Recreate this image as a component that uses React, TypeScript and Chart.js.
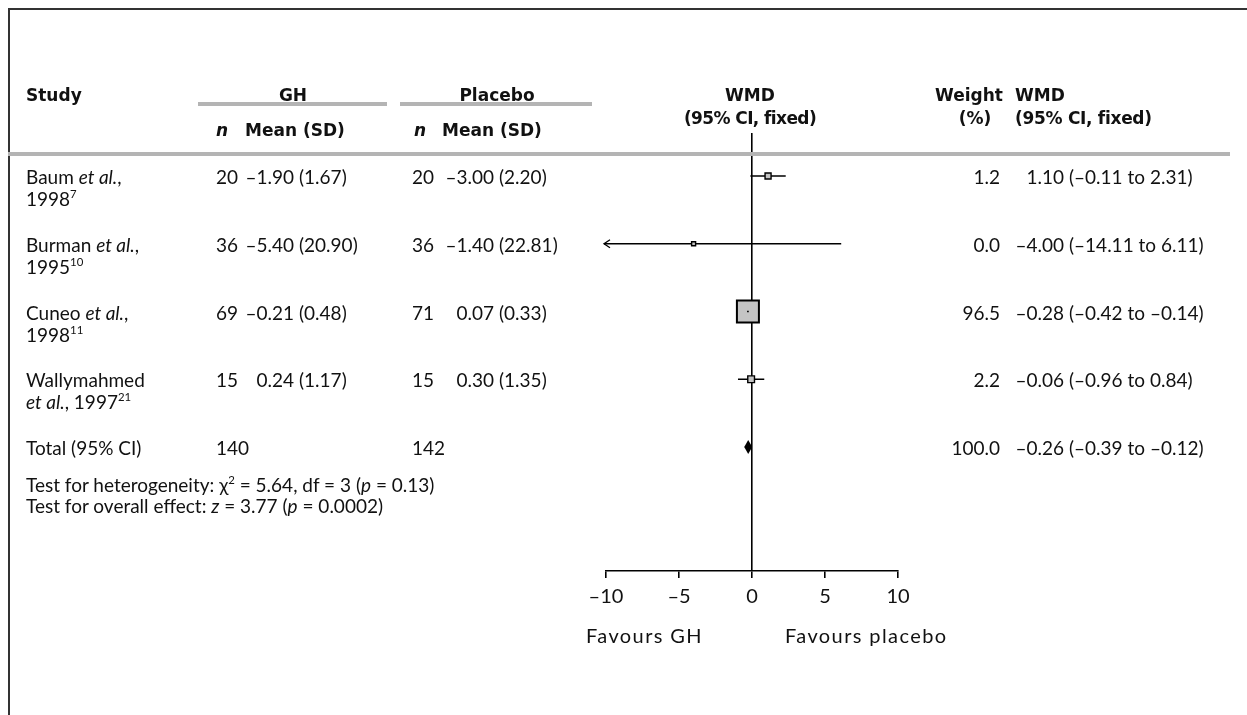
import React, { useEffect, useRef } from "react";
import { Chart, registerables } from "chart.js";

Chart.register(...registerables);

// ---------- data ----------
const studyNames = ["Baum", "Burman", "Cuneo", "Wallymahmed"];
const studyYears = ["1998", "1995", "1998", "1997"];
const studyRefs = ["7", "10", "11", "21"];
const ghN = [20, 36, 69, 15];
const ghMean = ["–1.90", "–5.40", "–0.21", "0.24"];
const ghSD = ["1.67", "20.90", "0.48", "1.17"];
const plN = [20, 36, 71, 15];
const plMean = ["–3.00", "–1.40", "0.07", "0.30"];
const plSD = ["2.20", "22.81", "0.33", "1.35"];
const wmd = [1.1, -4.0, -0.28, -0.06];
const ciLow = [-0.11, -14.11, -0.42, -0.96];
const ciHigh = [2.31, 6.11, -0.14, 0.84];
const weights = [1.2, 0.0, 96.5, 2.2];
const rowIndex = [1, 2, 3, 4];

const totalRow = 5;
const totalGhN = 140;
const totalPlN = 142;
const totalWmd = -0.26;
const totalLow = -0.39;
const totalHigh = -0.12;
const totalWeight = 100.0;

const xTicks = [-10, -5, 0, 5, 10];
const xMin = -10;
const xMax = 10;

const heterogeneity = { chi2: "5.64", df: "3", p: "0.13" };
const overall = { z: "3.77", p: "0.0002" };

// ---------- helpers ----------
const W = 1247;
const H = 715;
const BODY = "Lato, 'Open Sans', sans-serif";
const HEAD = "'DejaVu Sans', Verdana, sans-serif";
const BODY_SIZE = 19;
const HEAD_SIZE = 17;

const fmtNum = (v: number, d: number) => {
  const s = Math.abs(v).toFixed(d);
  return v < 0 ? "–" + s : s;
};

type TProps = {
  x: number;
  y: number;
  align?: "left" | "center" | "right";
  bold?: boolean;
  size?: number;
  spacing?: number;
  children: React.ReactNode;
};

function T({ x, y, align = "left", bold = false, size, spacing, children }: TProps) {
  const style: React.CSSProperties = {
    position: "absolute",
    top: y,
    whiteSpace: "nowrap",
    fontFamily: bold ? HEAD : BODY,
    fontWeight: bold ? 700 : 400,
    fontSize: size ?? (bold ? HEAD_SIZE : BODY_SIZE),
    letterSpacing: spacing ?? 0,
    color: "#111",
    lineHeight: 1,
  };
  if (align === "left") {
    style.left = x;
    style.transform = "translateY(-50%)";
  } else if (align === "right") {
    style.right = W - x;
    style.transform = "translateY(-50%)";
  } else {
    style.left = x;
    style.transform = "translate(-50%,-50%)";
  }
  return <div style={style}>{children}</div>;
}

const Sup = ({ children }: { children: React.ReactNode }) => (
  <sup style={{ fontSize: "0.6em", verticalAlign: "0.7em", lineHeight: 0 }}>{children}</sup>
);

// ---------- chart ----------
const forestExtras = {
  id: "forestExtras",
  afterDatasetsDraw(chart: any) {
    const { ctx } = chart;
    const x = chart.scales.x;
    const y = chart.scales.y;
    ctx.save();
    ctx.strokeStyle = "#000";
    ctx.fillStyle = "#000";
    ctx.lineWidth = 1.3;
    ciLow.forEach((lo, i) => {
      const py = y.getPixelForValue(rowIndex[i]);
      if (lo < xMin) {
        const px = x.getPixelForValue(xMin) - 2;
        ctx.beginPath();
        ctx.moveTo(px + 2, py);
        ctx.lineTo(px, py);
        ctx.stroke();
        ctx.beginPath();
        ctx.moveTo(px + 6, py - 4);
        ctx.lineTo(px, py);
        ctx.lineTo(px + 6, py + 4);
        ctx.stroke();
      }
      if (ciHigh[i] > xMax) {
        const px = x.getPixelForValue(xMax) + 2;
        ctx.beginPath();
        ctx.moveTo(px - 6, py - 4);
        ctx.lineTo(px, py);
        ctx.lineTo(px - 6, py + 4);
        ctx.stroke();
      }
    });
    const l = x.getPixelForValue(totalLow);
    const r = x.getPixelForValue(totalHigh);
    const c = x.getPixelForValue(totalWmd);
    const cy = y.getPixelForValue(totalRow);
    const hw = Math.max((r - l) / 2, 4);
    ctx.beginPath();
    ctx.moveTo(c - hw, cy);
    ctx.lineTo(c, cy - 7);
    ctx.lineTo(c + hw, cy);
    ctx.lineTo(c, cy + 7);
    ctx.closePath();
    ctx.fill();
    ctx.restore();
  },
};

function ForestChart() {
  const ref = useRef<HTMLCanvasElement | null>(null);
  useEffect(() => {
    if (!ref.current) return;
    const ciData: any[] = [];
    rowIndex.forEach((r, i) => {
      ciData.push({ x: ciLow[i], y: r });
      ciData.push({ x: ciHigh[i], y: r });
      ciData.push({ x: NaN, y: null });
    });
    const boxSides = weights.map((w) => 4 + 18 * Math.sqrt(w / 96.5));
    const chart = new Chart(ref.current, {
      type: "scatter",
      data: {
        datasets: [
          {
            type: "line",
            data: ciData,
            borderColor: "#000",
            borderWidth: 1.3,
            pointRadius: 0,
            spanGaps: false,
            fill: false,
            order: 2,
          } as any,
          {
            data: rowIndex.map((r, i) => ({ x: wmd[i], y: r })),
            pointStyle: "rect",
            pointRadius: boxSides.map((s) => s / Math.SQRT2),
            backgroundColor: "#c4c4c4",
            borderColor: "#000",
            borderWidth: boxSides.map((s) => (s > 10 ? 2 : 1.4)),
            order: 1,
          },
          {
            data: rowIndex.map((r, i) => ({ x: wmd[i], y: r })),
            pointStyle: "rect",
            pointRadius: boxSides.map((s) => (s > 10 ? 1.2 : 0)),
            backgroundColor: "#000",
            borderWidth: 0,
            order: 0,
          },
        ],
      },
      options: {
        animation: false,
        responsive: false,
        devicePixelRatio: 1,
        events: [],
        layout: { padding: { left: 606, right: W - 898, top: 133, bottom: 99 } },
        plugins: { legend: { display: false }, tooltip: { enabled: false } },
        scales: {
          x: {
            type: "linear",
            min: xMin,
            max: xMax,
            afterBuildTicks: (s: any) => {
              s.ticks = xTicks.map((v) => ({ value: v }));
            },
            border: { display: true, color: "#000", width: 1.6 },
            grid: {
              drawOnChartArea: true,
              drawTicks: true,
              tickLength: 7,
              lineWidth: 1.6,
              color: (c: any) => (c.tick && c.tick.value === 0 ? "#000" : "rgba(0,0,0,0)"),
              tickColor: "#000",
            },
            ticks: {
              padding: 7,
              color: "#111",
              font: { family: BODY, size: 20 },
              callback: (v: any) => fmtNum(Number(v), 0),
            },
          },
          y: {
            type: "linear",
            display: false,
            reverse: true,
            min: 0.3653,
            max: 6.83,
          },
        },
      },
      plugins: [forestExtras],
    });
    return () => chart.destroy();
  }, []);
  return (
    <canvas
      ref={ref}
      width={W}
      height={H}
      style={{ position: "absolute", left: 0, top: 0, width: W, height: H }}
    />
  );
}

// ---------- layout ----------
const rowY = [176, 244, 312, 379];
const line2 = 22;
const totalY = 447;

export default function App() {
  return (
    <div
      style={{
        position: "fixed",
        left: 0,
        top: 0,
        width: W,
        height: H,
        background: "#fff",
        overflow: "hidden",
      }}
    >
      <div style={{ position: "absolute", left: 8, top: 8, width: W, height: 2, background: "#333" }} />
      <div style={{ position: "absolute", left: 8, top: 8, width: 2, height: H, background: "#333" }} />

      <ForestChart />

      <T x={26} y={95} bold>Study</T>
      <T x={293} y={95} align="center" bold>GH</T>
      <T x={497} y={95} align="center" bold>Placebo</T>
      <T x={750} y={95} align="center" bold>WMD</T>
      <T x={750} y={118} align="center" bold spacing={-0.6}>(95% CI, fixed)</T>
      <T x={1003} y={95} align="right" bold>Weight</T>
      <T x={975} y={118} align="center" bold>(%)</T>
      <T x={1015} y={95} bold>WMD</T>
      <T x={1015} y={118} bold spacing={-0.3}>(95% CI, fixed)</T>
      <div style={{ position: "absolute", left: 198, top: 102, width: 189, height: 4, background: "#b4b4b4" }} />
      <div style={{ position: "absolute", left: 400, top: 102, width: 192, height: 4, background: "#b4b4b4" }} />
      <T x={222} y={130} align="center" bold><i>n</i></T>
      <T x={245} y={130} bold>Mean (SD)</T>
      <T x={420} y={130} align="center" bold><i>n</i></T>
      <T x={442} y={130} bold>Mean (SD)</T>
      <div style={{ position: "absolute", left: 8, top: 152, width: 1222, height: 4, background: "#b4b4b4" }} />

      {studyNames.map((name, i) => {
        const y = rowY[i];
        const long = name.length > 8;
        return (
          <React.Fragment key={name}>
            {long ? (
              <>
                <T x={26} y={y}>{name}</T>
                <T x={26} y={y + line2}>
                  <i>et al.</i>, {studyYears[i]}
                  <Sup>{studyRefs[i]}</Sup>
                </T>
              </>
            ) : (
              <>
                <T x={26} y={y}>
                  {name} <i>et al.</i>,
                </T>
                <T x={26} y={y + line2}>
                  {studyYears[i]}
                  <Sup>{studyRefs[i]}</Sup>
                </T>
              </>
            )}
            <T x={216} y={y}>{ghN[i]}</T>
            <T x={294} y={y} align="right">{ghMean[i]}</T>
            <T x={299} y={y}>({ghSD[i]})</T>
            <T x={412} y={y}>{plN[i]}</T>
            <T x={494} y={y} align="right">{plMean[i]}</T>
            <T x={499} y={y}>({plSD[i]})</T>
            <T x={1000} y={y} align="right">{weights[i].toFixed(1)}</T>
            <T x={1064} y={y} align="right">{fmtNum(wmd[i], 2)}</T>
            <T x={1069} y={y}>
              ({fmtNum(ciLow[i], 2)} to {fmtNum(ciHigh[i], 2)})
            </T>
          </React.Fragment>
        );
      })}

      <T x={26} y={totalY}>Total (95% CI)</T>
      <T x={216} y={totalY}>{totalGhN}</T>
      <T x={412} y={totalY}>{totalPlN}</T>
      <T x={1000} y={totalY} align="right">{totalWeight.toFixed(1)}</T>
      <T x={1064} y={totalY} align="right">{fmtNum(totalWmd, 2)}</T>
      <T x={1069} y={totalY}>
        ({fmtNum(totalLow, 2)} to {fmtNum(totalHigh, 2)})
      </T>
      <T x={26} y={484}>
        Test for heterogeneity: χ<Sup>2</Sup> = {heterogeneity.chi2}, df = {heterogeneity.df} (<i>p</i> = {heterogeneity.p})
      </T>
      <T x={26} y={505}>
        Test for overall effect: <i>z</i> = {overall.z} (<i>p</i> = {overall.p})
      </T>

      <T x={586} y={635} size={20} spacing={1.4}>Favours GH</T>
      <T x={785} y={635} size={20} spacing={1.4}>Favours placebo</T>
    </div>
  );
}
